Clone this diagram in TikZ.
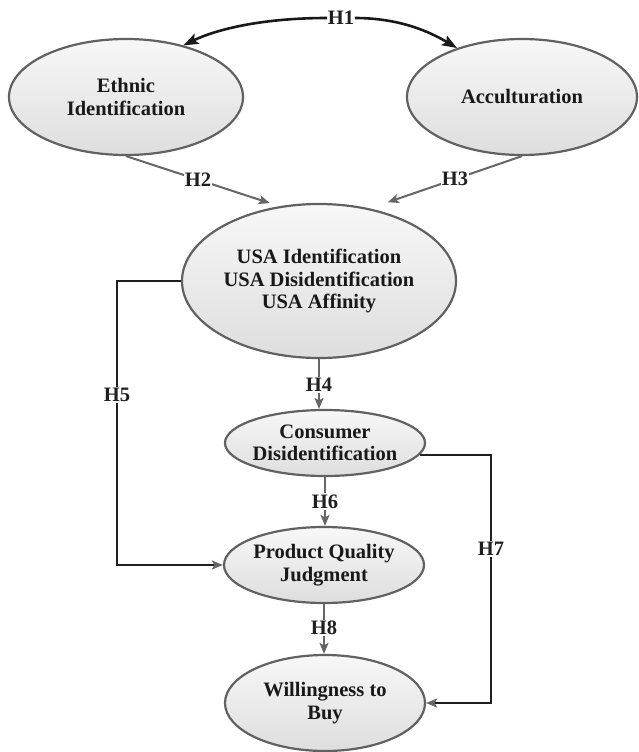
\documentclass[tikz,border=0pt]{standalone}
\usepackage{fontspec}
\setmainfont{Liberation Serif}
\usetikzlibrary{shapes.geometric,arrows.meta}

\tikzset{
  construct/.style={ellipse, draw=black!62, line width=2.2pt, inner sep=-20pt,
    top color=white!97!black, bottom color=white!87!black,
    font=\fontsize{20.5}{22.5}\selectfont\bfseries, align=center, text=black!90},
  hlab/.style={fill=white, inner sep=1.2pt, font=\fontsize{20.5}{22.5}\selectfont\bfseries, text=black!88},
  link/.style={draw=black!60, line width=2pt, -{Stealth[length=11pt,width=9pt,inset=2.5pt]}},
  elbow/.style={draw=black!88, line width=2pt, -{Stealth[length=11pt,width=9pt,inset=2.5pt,color=black!60]}},
  mutual/.style={draw=black!90, line width=2.6pt, -{Stealth[length=15pt,width=11pt,inset=3pt]}}
}

\begin{document}
\begin{tikzpicture}[x=1pt,y=-1pt]
  \useasboundingbox (0,0) rectangle (638,752);

  % constructs
  \node[construct, minimum width=234pt, minimum height=116pt] (eth) at (126,97) {Ethnic\\Identification};
  \node[construct, minimum width=230pt, minimum height=116pt] (acc) at (522,97) {Acculturation};
  \node[construct, minimum width=274pt, minimum height=154pt] (usa) at (319,281) {USA Identification\\USA Disidentification\\USA Affinity};
  \node[construct, minimum width=200pt, minimum height=66pt] (cons) at (325,443) {Consumer\\Disidentification};
  \node[construct, minimum width=200pt, minimum height=76pt] (pqj) at (324,565) {Product Quality\\Judgment};
  \node[construct, minimum width=200pt, minimum height=96pt] (wtb) at (325,703) {Willingness to\\Buy};

  % H1: two-way link between the antecedents
  \node[hlab, inner xsep=0.5pt] (h1) at (341,18) {H1};
  \draw[mutual] (h1.west) .. controls (260,18) and (215,30) .. (eth.42);
  \draw[mutual] (h1.east) .. controls (400,18) and (430,32) .. (acc.143);

  % H2, H3
  \draw[link, shorten >=10pt] (eth.south) -- node[hlab, pos=0.47] (h2) {H2} (usa.118);
  \draw[link, shorten >=19pt] (acc.south) -- node[hlab, pos=0.44] (h3) {H3} (usa.55);

  % H4, H6, H8
  \draw[link] (usa.south) -- node[hlab, pos=0.52] (h4) {H4} (usa.south |- cons.north);
  \draw[link] (cons.south) -- node[hlab, pos=0.5] (h6) {H6} (cons.south |- pqj.north);
  \draw[link] (pqj.south) -- node[hlab, pos=0.48] (h8) {H8} (pqj.south |- wtb.north);

  % H5, H7 elbow connectors
  \draw[elbow] (usa.west) -- ++(-64,0) coordinate (h5corner) |- node[hlab, pos=0.2] (h5) {H5} (pqj.west);
  \draw[elbow] (cons.-7) -- ++(71,0) coordinate (h7corner) |- node[hlab, pos=0.19] (h7) {H7} (wtb.east);
\end{tikzpicture}
\end{document}
